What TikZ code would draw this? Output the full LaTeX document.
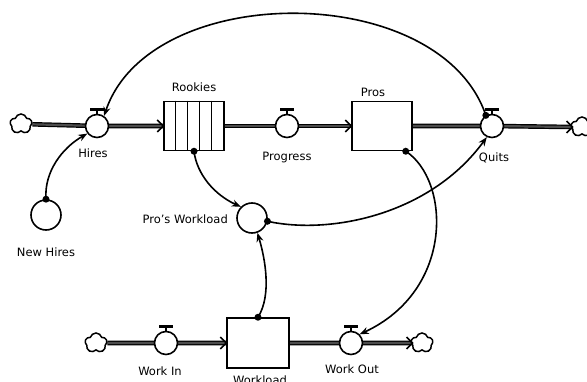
\documentclass[tikz,border=0pt]{standalone}
\usepackage{fontspec}
\setmainfont{DejaVu Sans}
\usetikzlibrary{arrows.meta,shapes.symbols,backgrounds,calc}

\begin{document}
\begin{tikzpicture}[x=1pt,y=-1pt,
  valve/.style={circle,draw,fill=white,line width=1.6pt,minimum size=23pt,inner sep=0pt},
  aux/.style={circle,draw,fill=white,line width=1.6pt,minimum size=30pt,inner sep=0pt},
  stock/.style={rectangle,draw,fill=white,line width=1.5pt,minimum width=60pt,minimum height=49pt,inner sep=0pt},
  sink/.style={cloud,cloud puffs=5,cloud ignores aspect,draw,line width=1.5pt,fill=white,
               minimum width=22pt,minimum height=20pt,inner sep=0pt},
  pipe/.style={draw=black,line width=1.2pt,double=black!70,double distance=2.2pt},
  chev/.style={line width=1.6pt,line join=miter},
  link/.style={line width=1.6pt,-{Stealth[length=9pt,width=7pt]}},
  lbl/.style={font=\fontsize{11.5}{12}\selectfont,inner sep=0pt}
]
\useasboundingbox (0,0) rectangle (587,382);

% upper chain: hiring, progression, quitting
\node[sink]  (src1)     at (21,124)  {};
\node[valve] (hires)    at (97,126)  {};
\node[stock] (rookies)  at (194,126) {};
\node[valve] (progress) at (287,126) {};
\node[stock] (pros)     at (382,126) {};
\node[valve] (quits)    at (492,126) {};
\node[sink]  (snk1)     at (582,127) {};

% auxiliaries
\node[aux] (newhires) at (46,215)  {};
\node[aux] (pw)       at (252,218) {};

% lower chain: workload
\node[sink]  (src2)     at (96,343)  {};
\node[valve] (workin)   at (166,343) {};
\node[stock,minimum width=62pt,minimum height=50pt] (workload) at (258,343) {};
\node[valve] (workout)  at (351,343) {};
\node[sink]  (snk2)     at (422,343) {};

% conveyor compartments of Rookies
\foreach \i in {1,...,4}
  \draw[line width=1.2pt] ($(rookies.north west)+(12*\i,0)$) -- ($(rookies.south west)+(12*\i,0)$);

% flow pipes
\begin{pgfonlayer}{background}
  \draw[pipe] (src1) -- (hires.center) -- (rookies.west);
  \draw[pipe] (rookies.east) -- (progress.center) -- (pros.west);
  \draw[pipe] (pros.east) -- (quits.center) -- ([xshift=2pt]snk1.west);
  \draw[pipe] (src2) -- (workin.center) -- (workload.west);
  \draw[pipe] (workload.east) -- (workout.center) -- ([xshift=2pt]snk2.west);
\end{pgfonlayer}

% inflow chevrons
\foreach \t in {rookies.west,pros.west,workload.west}
  \draw[chev] ([shift={(-6pt,6pt)}]\t) -- (\t) -- ([shift={(-6pt,-6pt)}]\t);
\foreach \t in {snk1.west,snk2.west}
  \draw[chev] ([shift={(-4pt,6pt)}]\t) -- ([xshift=2pt]\t) -- ([shift={(-4pt,-6pt)}]\t);

% valve handles
\foreach \v in {hires,progress,quits,workin,workout}{
  \fill ([shift={(-7pt,3pt)}]\v.north) rectangle ([shift={(7pt,6pt)}]\v.north);
  \draw[line width=1.2pt] (\v.north) -- ([yshift=3pt]\v.north);
}

% information links
\draw[link] (quits.120) .. controls (440,-20) and (150,-20) .. (hires.55);
\fill (quits.120) circle (3.5pt);
\draw[link] (newhires.north) .. controls (44,172) and (62,148) .. (hires.218);
\fill (newhires.north) circle (3.5pt);
\draw[link] (rookies.south) .. controls (197,175) and (215,195) .. (pw.135);
\fill (rookies.south) circle (3.5pt);
\draw[link] (pw.-12) .. controls (330,235) and (430,215) .. (quits.245);
\fill (pw.-12) circle (3.5pt);
\draw[link] (workload.north) .. controls (272,295) and (265,258) .. (pw.-70);
\fill (workload.north) circle (3.5pt);
\draw[link] ([xshift=-7pt]pros.south east) .. controls (450,180) and (455,290) .. (workout.45);
\fill ([xshift=-7pt]pros.south east) circle (3.5pt);

% labels
\node[lbl] (lrookies)  at (194,87)  {Rookies};
\node[lbl] (lpros)     at (373,92)  {Pros};
\node[lbl] (lhires)    at (93,153)  {Hires};
\node[lbl] (lprogress) at (287,158) {Progress};
\node[lbl] (lquits)    at (494,158) {Quits};
\node[lbl] (lnewhires) at (46,252)  {New Hires};
\node[lbl,anchor=east] (lpw) at (228,219) {Pro's Workload};
\node[lbl] (lworkin)   at (160,371) {Work In};
\node[lbl] (lworkload) at (260,380) {Workload};
\node[lbl] (lworkout)  at (352,369) {Work Out};
\end{tikzpicture}
\end{document}
